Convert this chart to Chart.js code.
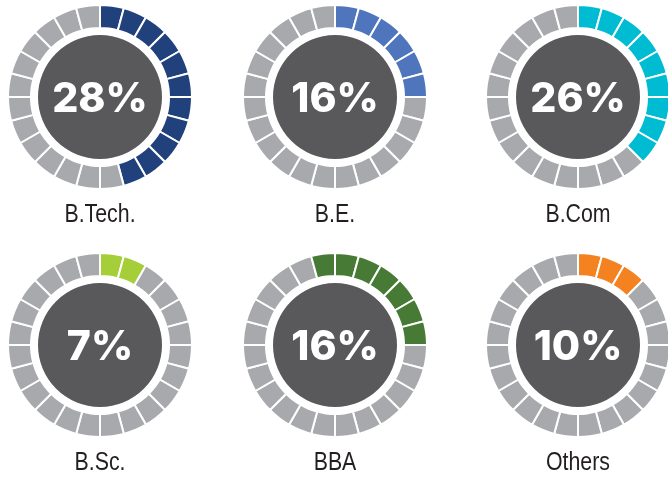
<!DOCTYPE html>
<html>
<head>
<meta charset="utf-8">
<script src="https://cdn.jsdelivr.net/npm/chart.js@4"></script>
<style>
  html, body { margin: 0; padding: 0; background: #fff; overflow: hidden; }
  body { width: 668px; height: 481px; position: relative; }
  .gauge { position: absolute; }
</style>
</head>
<body>
<canvas class="gauge" id="g0" width="200" height="240" style="left:0px;top:0px"></canvas>
<canvas class="gauge" id="g1" width="200" height="240" style="left:235px;top:0px"></canvas>
<canvas class="gauge" id="g2" width="200" height="240" style="left:478px;top:0px"></canvas>
<canvas class="gauge" id="g3" width="200" height="240" style="left:0px;top:248px"></canvas>
<canvas class="gauge" id="g4" width="200" height="240" style="left:235px;top:248px"></canvas>
<canvas class="gauge" id="g5" width="200" height="240" style="left:478px;top:248px"></canvas>
<script>
const categories = ['B.Tech.', 'B.E.', 'B.Com', 'B.Sc.', 'BBA', 'Others'];
const percentages = [28, 16, 26, 7, 16, 10];
// how many of the 24 ring segments are lit, and where the lit run starts (0 = 12 o'clock)
const litSegments = [11, 6, 9, 2, 7, 3];
const litStart = [0, 0, 0, 0, -1, 0];
const accentColors = ['#21417c', '#4f75bc', '#00bcd3', '#a6ce39', '#477b35', '#f58220'];

const SEGMENTS = 24;
const greySeg = '#a8a9ad';
const centerColor = '#59595b';

// percentage in the dark disc + the category name under the ring
const gaugeText = {
    id: 'gaugeText',
    afterDatasetsDraw(chart) {
        const arc = chart.getDatasetMeta(0).data[0];
        const opts = chart.options.plugins.gaugeText;
        const ctx = chart.ctx;
        ctx.save();
        ctx.fillStyle = '#ffffff';
        ctx.font = '800 41px Inter';
        ctx.textAlign = 'center';
        ctx.textBaseline = 'alphabetic';
        ctx.fillText(opts.value, arc.x, arc.y + 15);

        // narrow label: Liberation Sans squeezed to Arial Narrow proportions
        ctx.fillStyle = '#231f20';
        ctx.font = '26px "Liberation Sans"';
        ctx.translate(arc.x, arc.y + 125);
        ctx.scale(0.82, 1);
        ctx.fillText(opts.label, 0, 0);
        ctx.restore();
    }
};

categories.forEach((name, i) => {
    const segColors = [];
    for (let s = 0; s < SEGMENTS; s++) {
        const rel = ((s - litStart[i]) % SEGMENTS + SEGMENTS) % SEGMENTS;
        segColors.push(rel < litSegments[i] ? accentColors[i] : greySeg);
    }

    new Chart(document.getElementById('g' + i).getContext('2d'), {
        type: 'doughnut',
        data: {
            datasets: [{
                data: new Array(SEGMENTS).fill(1),
                backgroundColor: segColors,
                borderColor: '#ffffff',
                borderWidth: 2,
                weight: 23
            }, {
                data: [1],
                backgroundColor: 'rgba(0,0,0,0)',
                borderWidth: 0,
                weight: 7
            }, {
                data: [1],
                backgroundColor: centerColor,
                borderWidth: 0,
                weight: 62
            }]
        },
        options: {
            responsive: false,
            animation: false,
            cutout: 0,
            layout: { padding: { top: 4, bottom: 50 } },
            plugins: {
                legend: { display: false },
                tooltip: { enabled: false },
                gaugeText: { value: percentages[i] + '%', label: name }
            }
        },
        plugins: [gaugeText]
    });
});
</script>
</body>
</html>
